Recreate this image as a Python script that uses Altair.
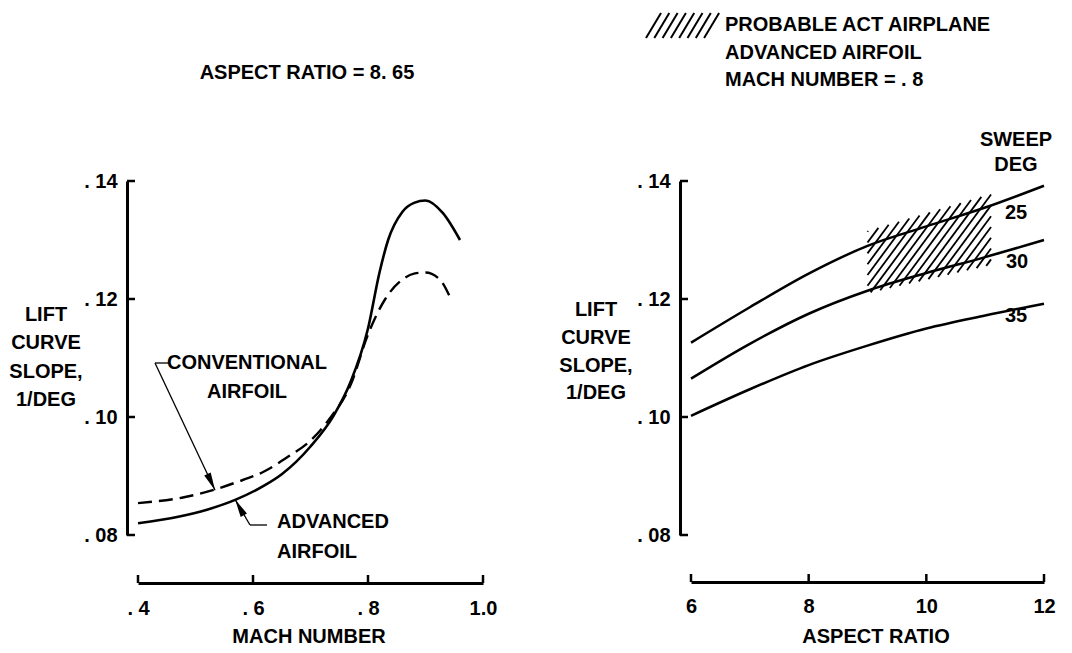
import altair as alt
import numpy as np
import pandas as pd

# ---------------- data: left panel (aspect ratio 8.65) ----------------
mach_advanced = [0.40, 0.47, 0.52, 0.57, 0.62, 0.65, 0.70, 0.74, 0.77, 0.80, 0.82, 0.835, 0.86, 0.88, 0.90, 0.93, 0.96]
slope_advanced = [0.0820, 0.0831, 0.0843, 0.0860, 0.0884, 0.0903, 0.0950, 0.1002, 0.1060, 0.1150, 0.1245, 0.1300, 0.1348, 0.1363, 0.1367, 0.1346, 0.1300]
mach_conventional = [0.40, 0.48, 0.53, 0.57, 0.62, 0.66, 0.70, 0.73, 0.77, 0.80, 0.83, 0.86, 0.88, 0.90, 0.925, 0.945]
slope_conventional = [0.0854, 0.0864, 0.0876, 0.0889, 0.0908, 0.0932, 0.0960, 0.0993, 0.1055, 0.1140, 0.1200, 0.1233, 0.1243, 0.1245, 0.1233, 0.1198]
mach_ticks = [0.4, 0.6, 0.8, 1.0]
lift_ticks = [0.08, 0.10, 0.12, 0.14]

# ---------------- data: right panel (Mach 0.8, advanced airfoil) ----------------
aspect_ratio = [6, 7, 8, 9, 10, 11, 12]
sweep_25 = [0.1126, 0.1186, 0.1243, 0.1290, 0.1323, 0.1355, 0.1392]
sweep_30 = [0.1065, 0.1124, 0.1175, 0.1214, 0.1244, 0.1271, 0.1300]
sweep_35 = [0.1002, 0.1047, 0.1088, 0.1121, 0.1150, 0.1172, 0.1192]
sweep_names = ["25", "30", "35"]
aspect_ticks = [6, 8, 10, 12]
# probable ACT airplane region (hatched)
region_x = [9.0, 11.1]
region_top = [0.1315, 0.1378]
region_bottom = [0.1210, 0.1258]

# annotation anchor points on the curves
conv_tip = [0.534, 0.0876]
adv_tip = [0.569, 0.0860]

# ---------------- texts ----------------
left_title = "ASPECT RATIO = 8. 65"
y_title = ["LIFT", "CURVE", "SLOPE,", "1/DEG"]
conv_label = ["CONVENTIONAL", "AIRFOIL"]
adv_label = ["ADVANCED", "AIRFOIL"]
left_xtitle = "MACH NUMBER"
right_xtitle = "ASPECT RATIO"
legend_lines = ["PROBABLE ACT AIRPLANE", "ADVANCED AIRFOIL", "MACH NUMBER = . 8"]
sweep_title = ["SWEEP", "DEG"]

# ---------------- styling / geometry ----------------
FONT = "Liberation Sans, Arial, sans-serif"
FS = 20
W, H = 906, 354
LEFT_RANGE = [0, 345]
RIGHT_RANGE = [553, 906]

x_left = alt.Scale(domain=[0.4, 1.0], range=LEFT_RANGE, nice=False, zero=False)
x_right = alt.Scale(domain=[6, 12], range=RIGHT_RANGE, nice=False, zero=False)
y_scale = alt.Scale(domain=[0.08, 0.14], nice=False, zero=False)

ax_common = dict(domain=True, domainColor="black", domainWidth=3, ticks=False, grid=False,
                 labelFont=FONT, labelFontSize=FS, labelFontWeight="bold", labelColor="black",
                 labelFlush=False, labelOverlap=False)

x_axis_left = alt.Axis(orient="bottom", offset=48, values=mach_ticks, labelPadding=15,
                       labelExpr="datum.value >= 1 ? '1.0' : '. ' + substring(format(datum.value, '.1f'), 2)",
                       **ax_common)
y_axis_left = alt.Axis(orient="left", offset=11, values=lift_ticks, labelPadding=10,
                       labelExpr="'. ' + substring(format(datum.value, '.2f'), 2)", **ax_common)
x_axis_right = alt.Axis(orient="bottom", offset=47, values=aspect_ticks, labelPadding=14, **ax_common)
y_axis_right = alt.Axis(orient="left", offset=-542, values=lift_ticks, labelPadding=10,
                        labelExpr="'. ' + substring(format(datum.value, '.2f'), 2)", **ax_common)

one = alt.Data(values=[{}])


def text_mark(text, x, y, align="center", baseline="middle", line_height=28, size=FS):
    return alt.Chart(one).mark_text(
        font=FONT, fontSize=size, fontWeight="bold", color="black",
        align=align, baseline=baseline, lineHeight=line_height,
    ).encode(x=alt.value(x), y=alt.value(y), text=alt.value(text))


# ---------------- left panel ----------------
adv_df = pd.DataFrame({"mach": mach_advanced, "slope": slope_advanced})
conv_df = pd.DataFrame({"mach": mach_conventional, "slope": slope_conventional})

adv_line = alt.Chart(adv_df).mark_line(color="black", strokeWidth=2.6, interpolate="monotone").encode(
    x=alt.X("mach:Q", scale=x_left, axis=x_axis_left, title=None),
    y=alt.Y("slope:Q", scale=y_scale, axis=y_axis_left, title=None),
)
conv_line = alt.Chart(conv_df).mark_line(color="black", strokeWidth=2.4, strokeDash=[14, 7],
                                         interpolate="monotone").encode(
    x=alt.X("mach:Q", scale=x_left, axis=None),
    y=alt.Y("slope:Q", scale=y_scale, axis=None),
)

left_yticks = alt.Chart(pd.DataFrame({"v": lift_ticks})).mark_rule(color="black", strokeWidth=2.5).encode(
    y=alt.Y("v:Q", scale=y_scale, axis=None), x=alt.value(-11), x2=alt.value(-3))
left_xticks = alt.Chart(pd.DataFrame({"v": mach_ticks})).mark_rule(color="black", strokeWidth=2.5).encode(
    x=alt.X("v:Q", scale=x_left, axis=None), y=alt.value(H + 48), y2=alt.value(H + 40))

tips_df = pd.DataFrame({"mach": [conv_tip[0], adv_tip[0]], "slope": [conv_tip[1], adv_tip[1]]})
conv_tip_df = tips_df.iloc[[0]]
adv_tip_df = tips_df.iloc[[1]]

conv_leader = alt.Chart(conv_tip_df).mark_rule(color="black", strokeWidth=1.3).encode(
    x=alt.X("mach:Q", scale=x_left, axis=None), y=alt.Y("slope:Q", scale=y_scale, axis=None),
    x2=alt.value(17), y2=alt.value(182))
conv_bar = alt.Chart(one).mark_rule(color="black", strokeWidth=1.3).encode(
    x=alt.value(17), x2=alt.value(32), y=alt.value(182))
adv_leader = alt.Chart(adv_tip_df).mark_rule(color="black", strokeWidth=1.3).encode(
    x=alt.X("mach:Q", scale=x_left, axis=None), y=alt.Y("slope:Q", scale=y_scale, axis=None),
    x2=alt.value(112), y2=alt.value(344))
adv_bar = alt.Chart(one).mark_rule(color="black", strokeWidth=1.3).encode(
    x=alt.value(112), x2=alt.value(129), y=alt.value(344))

ARROW = "M0,-1L-0.4,1L0.4,1Z"
conv_head = alt.Chart(conv_tip_df).mark_point(shape=ARROW, filled=True, color="black", opacity=1,
                                              size=320, angle=155, xOffset=-3.8, yOffset=-8).encode(
    x=alt.X("mach:Q", scale=x_left, axis=None), y=alt.Y("slope:Q", scale=y_scale, axis=None))
adv_head = alt.Chart(adv_tip_df).mark_point(shape=ARROW, filled=True, color="black", opacity=1,
                                            size=320, angle=331, xOffset=4.3, yOffset=7.8).encode(
    x=alt.X("mach:Q", scale=x_left, axis=None), y=alt.Y("slope:Q", scale=y_scale, axis=None))

left_layers = [
    adv_line, conv_line, left_yticks, left_xticks,
    conv_leader, conv_bar, adv_leader, adv_bar, conv_head, adv_head,
    text_mark(left_title, 169, -108),
    text_mark(y_title, -92, 124, baseline="top", line_height=28.3),
    text_mark(conv_label, 109, 172, baseline="top", line_height=29),
    text_mark(adv_label, 139, 331, align="left", baseline="top", line_height=30),
    text_mark(left_xtitle, 171, 456),
]

# ---------------- right panel ----------------
sweep_df = pd.DataFrame({
    "ar": aspect_ratio * 3,
    "slope": sweep_25 + sweep_30 + sweep_35,
    "sweep": [sweep_names[0]] * 7 + [sweep_names[1]] * 7 + [sweep_names[2]] * 7,
})
sweep_lines = alt.Chart(sweep_df).mark_line(color="black", strokeWidth=2.5, interpolate="monotone").encode(
    x=alt.X("ar:Q", scale=x_right, axis=x_axis_right, title=None),
    y=alt.Y("slope:Q", scale=y_scale, axis=y_axis_right, title=None),
    detail="sweep:N",
)

# hatch segments clipped to the region
kx = (RIGHT_RANGE[1] - RIGHT_RANGE[0]) / (12 - 6)
ky = H / (0.14 - 0.08)
s = 1.35 * kx / ky
dc = s * 8.0 / kx
x0, x1 = region_x
t0, t1 = region_top
b0, b1 = region_bottom
ts = (t1 - t0) / (x1 - x0)
bs = (b1 - b0) / (x1 - x0)
segs = []
for c in np.arange(b1 - s * x1 + dc / 2, t0 - s * x0, dc):
    u_lo = max(x0, (b0 - bs * x0 - c) / (s - bs))
    u_hi = min(x1, (t0 - ts * x0 - c) / (s - ts))
    if u_hi > u_lo:
        segs.append({"xa": u_lo, "ya": s * u_lo + c, "xb": u_hi, "yb": s * u_hi + c})
hatch_df = pd.DataFrame(segs)
hatch = alt.Chart(hatch_df).mark_rule(color="black", strokeWidth=1.8).encode(
    x=alt.X("xa:Q", scale=x_right, axis=None), y=alt.Y("ya:Q", scale=y_scale, axis=None),
    x2="xb:Q", y2="yb:Q")

right_yticks = alt.Chart(pd.DataFrame({"v": lift_ticks})).mark_rule(color="black", strokeWidth=2.5).encode(
    y=alt.Y("v:Q", scale=y_scale, axis=None), x=alt.value(542), x2=alt.value(550))
right_xticks = alt.Chart(pd.DataFrame({"v": aspect_ticks})).mark_rule(color="black", strokeWidth=2.5).encode(
    x=alt.X("v:Q", scale=x_right, axis=None), y=alt.value(H + 47), y2=alt.value(H + 39))

# legend swatch (pixel space)
sw = []
for i in range(8):
    xa = 508 + i * 8.3
    sw.append({"xa": xa, "ya": -143, "xb": xa + 15, "yb": -168})
swatch = alt.Chart(pd.DataFrame(sw)).mark_rule(color="black", strokeWidth=2).encode(
    x=alt.X("xa:Q", scale=None), y=alt.Y("ya:Q", scale=None), x2="xb:Q", y2="yb:Q")

right_layers = [
    hatch, sweep_lines, right_yticks, right_xticks, swatch,
    text_mark(legend_lines, 587, -166, align="left", baseline="top", line_height=27.5),
    text_mark(sweep_title, 878, -51, baseline="top", line_height=25),
    text_mark(sweep_names[0], 878, 32),
    text_mark(sweep_names[1], 879, 81),
    text_mark(sweep_names[2], 878, 135),
    text_mark(y_title, 458, 119, baseline="top", line_height=27.8),
    text_mark(right_xtitle, 738, 456),
]

chart = alt.layer(*left_layers, *right_layers).resolve_scale(
    x="independent", y="independent"
).properties(
    width=W, height=H,
    padding={"left": 130, "top": 173, "right": 15, "bottom": 112},
    autosize=alt.AutoSizeParams(type="none"),
    background="white",
).configure_view(strokeWidth=0)

chart.save("out.html", embed_options={"renderer": "svg", "actions": False})
